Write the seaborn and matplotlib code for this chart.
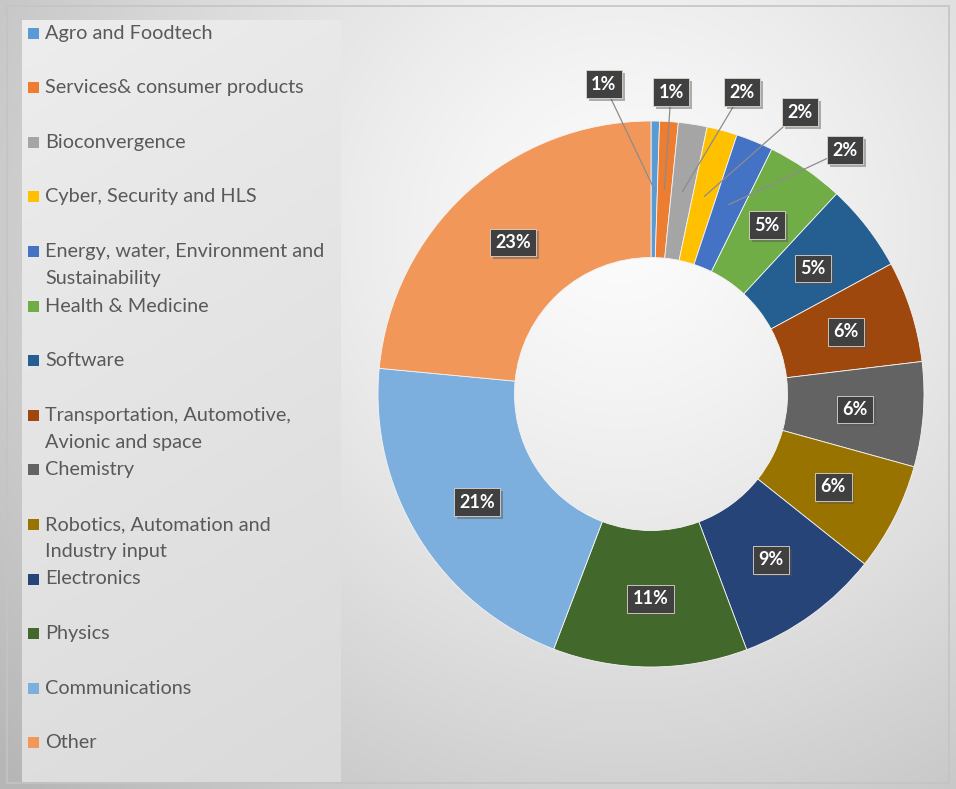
import numpy as np
import matplotlib
matplotlib.use("Agg")
import matplotlib.pyplot as plt
import matplotlib.patheffects as pe
from matplotlib.patches import Rectangle
import seaborn as sns

sns.set_theme(style="white")
plt.rcParams['font.family'] = ['Lato', 'DejaVu Sans']

categories = ["Agro and Foodtech", "Services& consumer products", "Bioconvergence",
              "Cyber, Security and HLS", "Energy, water, Environment and\nSustainability",
              "Health & Medicine", "Software", "Transportation, Automotive,\nAvionic and space",
              "Chemistry", "Robotics, Automation and\nIndustry input", "Electronics",
              "Physics", "Communications", "Other"]
values = [0.5, 1.1, 1.7, 1.8, 2.2, 4.6, 5.2, 6.0, 6.2, 6.4, 8.6, 11.5, 20.7, 23.5]
pct_labels = ["1%", "1%", "2%", "2%", "2%", "5%", "5%", "6%", "6%", "6%", "9%", "11%", "21%", "23%"]
colors = ["#5B9BD5", "#ED7D31", "#A5A5A5", "#FFC000", "#4472C4", "#70AD47", "#255E91",
          "#9E480E", "#636363", "#997300", "#264478", "#43682B", "#7CAFDD", "#F1975A"]

W, H = 956, 789
fig = plt.figure(figsize=(W / 100, H / 100), dpi=100)

# background radial gradient
bg = fig.add_axes([0, 0, 1, 1])
yy, xx = np.mgrid[0:H, 0:W]
d = np.sqrt((xx - 620) ** 2 + (yy - 230) ** 2) / 820.0
val = 252 - 70 * np.clip(d, 0, 1) ** 1.3
img = np.dstack([val, val, val]) / 255.0
bg.imshow(img, extent=[0, W, H, 0], aspect='auto')
bg.axis('off')
bg.add_patch(Rectangle((7, 6), W - 14, H - 12, fill=False, edgecolor='#c4c4c4', lw=1.2))

# legend box gradient
lx0, lx1, ly0, ly1 = 22, 341, 20, 782
gy = np.linspace(0, 1, ly1 - ly0)[:, None]
gx = np.linspace(0, 1, lx1 - lx0)[None, :]
lv = 237 - 15 * gy - 4 * gx
limg = np.dstack([lv, lv, lv]) / 255.0
bg.imshow(limg, extent=[lx0, lx1, ly1, ly0], aspect='auto', zorder=2)
bg.set_xlim(0, W)
bg.set_ylim(H, 0)

# legend entries
for i, (cat, col) in enumerate(zip(categories, colors)):
    yc = 33 + 54.6 * i
    bg.add_patch(Rectangle((28, yc - 5.5), 11, 11, facecolor=col, edgecolor='none', zorder=3))
    for k, line in enumerate(cat.split("\n")):
        bg.text(45, yc + 27 * k, line, fontsize=14.3, color='#595959', va='center', ha='left', zorder=3)

# donut
cx, cy, R = 651, 394, 273
ax = fig.add_axes([(cx - R) / W, (H - cy - R) / H, 2 * R / W, 2 * R / H])
ax.set_facecolor('none')
wedges, _ = ax.pie(values, colors=colors, startangle=90, counterclock=False, radius=1,
                   wedgeprops=dict(width=0.5, edgecolor='#f4f4f4', linewidth=0.6))
ax.set_xlim(-1, 1)
ax.set_ylim(-1, 1)
ax.set_aspect('equal')
ax.axis('off')

outside_pos_px = {0: (604, 84), 1: (671, 92), 2: (742, 92), 3: (800, 112), 4: (845, 150)}

def style_box(t):
    bp = t.get_bbox_patch()
    bp.set_path_effects([pe.SimplePatchShadow(offset=(2, -2), alpha=0.45, shadow_rgbFace='#555555'),
                         pe.Normal()])

for i, w in enumerate(wedges):
    ang = np.deg2rad((w.theta1 + w.theta2) / 2)
    px, py = 0.75 * np.cos(ang), 0.75 * np.sin(ang)
    bbox = dict(boxstyle='square,pad=0.3', facecolor='#404040', edgecolor='#e0d6cc', lw=0.6)
    if i in outside_pos_px:
        lxp, lyp = outside_pos_px[i]
        tx, ty = (lxp - cx) / R, (cy - lyp) / R
        t = ax.annotate(pct_labels[i], xy=(px, py), xytext=(tx, ty), ha='center', va='center',
                        fontsize=13, fontweight='bold', color='white', bbox=bbox,
                        arrowprops=dict(arrowstyle='-', color='#8c8c8c', lw=0.9,
                                        shrinkA=0, shrinkB=0))
    else:
        t = ax.text(px, py, pct_labels[i], ha='center', va='center', fontsize=13,
                    fontweight='bold', color='white', bbox=bbox)
    style_box(t)

fig.savefig("out.png", dpi=100)
